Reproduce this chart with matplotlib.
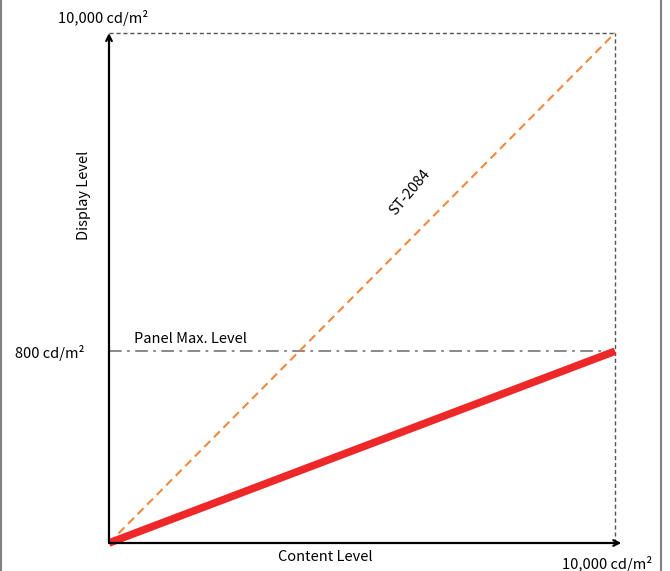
import numpy as np
import matplotlib.pyplot as plt
from matplotlib.lines import Line2D

plt.rcParams['font.family'] = ['Noto Sans CJK KR', 'DejaVu Sans']

# values (cd/m²)
content = [0, 10000]
st2084 = [0, 10000]
panel_out = [0, 800]
panel_max = 800
peak = 10000

# schematic y axis: 800 sits about 37.6% of the way up
y_marks = [0, 800, 10000]
y_pos = [0, 0.376, 1.0]

def fwd(v):
    return np.interp(v, y_marks, y_pos)

def inv(p):
    return np.interp(p, y_pos, y_marks)

fig = plt.figure(figsize=(6.7, 5.71), dpi=100)
W, H = 670, 571
ax = fig.add_axes([109 / W, (H - 543) / H, (615 - 109) / W, (543 - 33) / H])
ax.set_yscale('function', functions=(fwd, inv))
ax.set_xlim(0, peak)
ax.set_ylim(0, peak)
for s in ax.spines.values():
    s.set_visible(False)
ax.set_xticks([])
ax.set_yticks([])
ax.minorticks_off()

# frame dashes top / right
ax.plot([0, peak], [peak, peak], color='#555555', lw=1, ls=(0, (3, 2)), clip_on=False)
ax.plot([peak, peak], [0, peak], color='#555555', lw=1, ls=(0, (3, 2)), clip_on=False)

# panel max level
ax.plot([0, peak], [panel_max, panel_max], color='#808080', lw=1.3,
        ls=(0, (7, 3, 1.5, 3)), clip_on=False)

# curves
ax.plot(content, st2084, color='#F0883E', lw=1.5, ls=(0, (4, 2.5)), clip_on=False)
ax.plot(content, panel_out, color='#EE2828', lw=5.5, solid_capstyle='butt', clip_on=False)

# axis arrows
ax.annotate('', xy=(0, peak), xytext=(0, 0),
            arrowprops=dict(arrowstyle='->', color='black', lw=1.6, shrinkA=0, shrinkB=0))
ax.annotate('', xy=(1.0125, 0), xytext=(0, 0), xycoords='axes fraction',
            arrowprops=dict(arrowstyle='->', color='black', lw=1.6, shrinkA=0, shrinkB=0))

fs = 10.5
fig.text(103 / W, 1 - 18 / H, '10,000 cd/m²', ha='center', va='center', fontsize=fs)
fig.text(50 / W, 1 - 353 / H, '800 cd/m²', ha='center', va='center', fontsize=fs)
fig.text(190 / W, 1 - 339 / H, 'Panel Max. Level', ha='center', va='center', fontsize=fs)
fig.text(325 / W, 1 - 557 / H, 'Content Level', ha='center', va='center', fontsize=fs)
fig.text(607 / W, 1 - 564 / H, '10,000 cd/m²', ha='center', va='center', fontsize=fs)
fig.text(84 / W, 1 - 195 / H, 'Display Level', ha='center', va='center', fontsize=fs, rotation=90)
fig.text(410 / W, 1 - 192 / H, 'ST-2084', ha='center', va='center', fontsize=fs, rotation=50)

# figure border lines
fig.add_artist(Line2D([0.5 / W, 0.5 / W], [0, 1], color='#808080', lw=1.5))
fig.add_artist(Line2D([661 / W, 661 / W], [0, 1], color='#808080', lw=1.5))

fig.savefig('out.png', dpi=100)
